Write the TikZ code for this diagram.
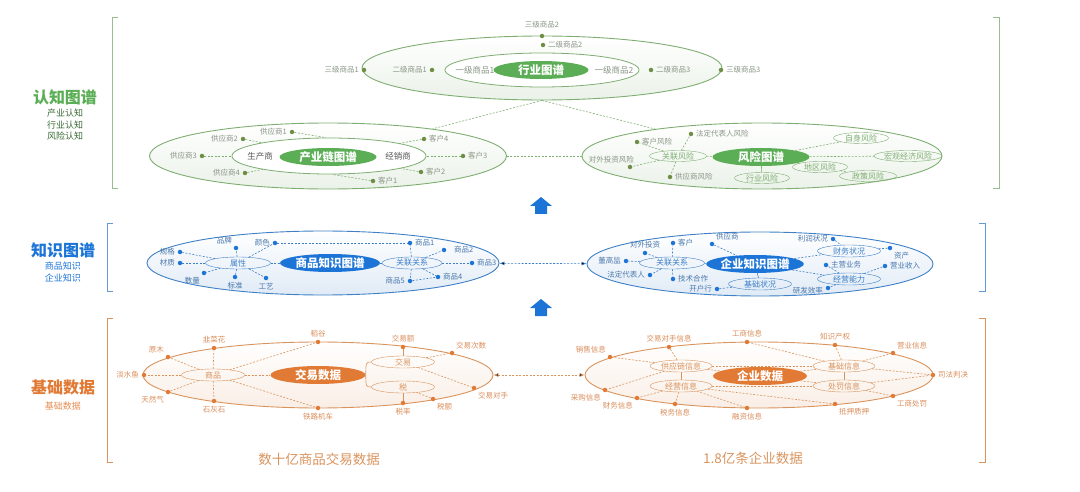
\documentclass[tikz,border=0pt]{standalone}
\usepackage{fontspec}
\setmainfont{Noto Sans CJK SC}
\usetikzlibrary{positioning, shapes.geometric, arrows.meta}

\definecolor{gmain}{HTML}{5BAE55}
\definecolor{gline}{HTML}{7FAE72}
\definecolor{gbead}{HTML}{6E8E45}
\definecolor{gtext}{HTML}{8A9686}
\definecolor{bmain}{HTML}{1C74D6}
\definecolor{bline}{HTML}{3F80C6}
\definecolor{btext}{HTML}{4A78AC}
\definecolor{omain}{HTML}{E07A35}
\definecolor{oline}{HTML}{D9945E}
\definecolor{otext}{HTML}{D98C5A}

\tikzset{
	ring/.style={ellipse,draw=#1,line width=0.9pt,inner sep=0pt,top color=white,bottom color=#1!16},
	ringin/.style={ellipse,draw=#1,line width=0.8pt,inner sep=0pt,fill=white},
	hub/.style={ellipse,fill=#1,text=white,inner sep=0pt,minimum height=18pt,font=\bfseries\fontsize{11.5}{12}\selectfont},
	pill/.style={ellipse,draw=#1,text=#1,inner sep=0pt,minimum height=12pt,font=\fontsize{8}{9}\selectfont},
	bead/.style={circle,fill=#1,inner sep=0pt,minimum size=4.5pt},
	lab/.style={text=#1,font=\fontsize{7.5}{8}\selectfont,inner sep=1.5pt},
	txt/.style={text=#1,font=\fontsize{8.5}{9}\selectfont,inner sep=0pt},
	dl/.style={draw=#1,line width=0.6pt,dash pattern=on 2pt off 1.5pt},
	sl/.style={draw=#1,line width=0.6pt},
	twoway/.style={dl=#1,{Latex[length=5pt,width=4pt]}-{Latex[length=5pt,width=4pt]}},
	head/.style={text=#1,font=\bfseries\fontsize{16}{17}\selectfont},
	subhead/.style={text=#1,font=\fontsize{9}{11.5}\selectfont,align=center},
	foot/.style={text=#1,font=\fontsize{13.5}{14}\selectfont},
	bracket/.style={draw=#1,line width=0.8pt},
}

\begin{document}
\begin{tikzpicture}[x=1pt,y=-1pt,label distance=1pt]
	\useasboundingbox (0,0) rectangle (1080,492);

	\node[head=gmain] (cogT) at (65,97) {认知图谱};
	\node[subhead=gmain!60!black] (cogS) at (65,125) {产业认知\\行业认知\\风险认知};
	\node[head=bmain] (kgT) at (63,250) {知识图谱};
	\node[subhead=bmain] (kgS) at (63,272) {商品知识\\企业知识};
	\node[head=omain] (baseT) at (63,387) {基础数据};
	\node[subhead=omain!85] (baseS) at (63,406) {基础数据};

	\draw[bracket=gline!80] (118,17) -| (112,188) -- (118,188);
	\draw[bracket=gline!80] (993,17) -| (999,188) -- (993,188);
	\draw[bracket=bline!80] (113,223) -| (107,291) -- (113,291);
	\draw[bracket=bline!80] (979,223) -| (985,291) -- (979,291);
	\draw[bracket=oline] (113,318) -| (107,462) -- (113,462);
	\draw[bracket=oline] (979,318) -| (985,462) -- (979,462);

	\foreach \y in {205,307}
		\fill[bmain] (535,\y+9) -- (535,\y+1) -- (530,\y+1) -- (541,\y-8) -- (552,\y+1) -- (547,\y+1) -- (547,\y+9) -- cycle;

	\node[ring=gline,minimum width=360pt,minimum height=64pt] (indOut) at (542,68) {};
	\node[ringin=gline,minimum width=194pt,minimum height=34pt] (indIn) at (542,70) {};
	\node[hub=gmain,minimum width=95pt] (ind) at (541,70) {行业图谱};
	\node[txt=gtext] (g1a) at (475,70) {一级商品1};
	\node[txt=gtext] (g1b) at (614,70) {一级商品2};
	\node[bead=gbead,label={[lab=gtext]left:二级商品1}] (g2a) at (432,70) {};
	\node[bead=gbead,label={[lab=gtext]right:二级商品2}] (g2b) at (543,45) {};
	\node[bead=gbead,label={[lab=gtext]right:二级商品3}] (g2c) at (651,70) {};
	\node[bead=gbead,label={[lab=gtext]left:三级商品1}] (g3a) at (364,70) {};
	\node[bead=gbead,label={[lab=gtext,label distance=4pt]above:三级商品2}] (g3b) at (542,36) {};
	\node[bead=gbead,label={[lab=gtext]right:三级商品3}] (g3c) at (721,70) {};

	\node[ring=gline,minimum width=357pt,minimum height=66pt] (chainOut) at (328,156) {};
	\node[ringin=gline,minimum width=194pt,minimum height=36pt] (chainIn) at (329,156) {};
	\node[hub=gmain,minimum width=97pt] (chain) at (328,157) {产业链图谱};
	\node[txt=black!65] (maker) at (260,156) {生产商};
	\node[txt=black!65] (dealer) at (398,156) {经销商};
	\node[bead=gbead,label={[lab=gtext]left:供应商1}] (s1) at (292,132) {};
	\node[bead=gbead,label={[lab=gtext]left:供应商2}] (s2) at (243,139) {};
	\node[bead=gbead,label={[lab=gtext]left:供应商3}] (s3) at (202,156) {};
	\node[bead=gbead,label={[lab=gtext]left:供应商4}] (s4) at (245,173) {};
	\node[bead=gbead,label={[lab=gtext]right:客户4}] (c4) at (424,139) {};
	\node[bead=gbead,label={[lab=gtext]right:客户3}] (c3) at (463,156) {};
	\node[bead=gbead,label={[lab=gtext]right:客户2}] (c2) at (421,172) {};
	\node[bead=gbead,label={[lab=gtext]right:客户1}] (c1) at (373,181) {};

	\node[ring=gline,minimum width=360pt,minimum height=66pt] (riskOut) at (762,156) {};
	\node[hub=gmain,minimum width=97pt] (risk) at (761,157) {风险图谱};
	\node[pill=gline,minimum width=57pt,minimum height=11pt] (rRel) at (678,156) {关联风险};
	\node[pill=gline,minimum width=55pt,minimum height=11pt] (rSelf) at (861,138) {自身风险};
	\node[pill=gline,minimum width=64pt,minimum height=11pt] (rMacro) at (908,156) {宏观经济风险};
	\node[pill=gline,minimum width=55pt,minimum height=11pt] (rRegion) at (820,167) {地区风险};
	\node[pill=gline,minimum width=57pt,minimum height=11pt] (rPolicy) at (868,176) {政策风险};
	\node[pill=gline,minimum width=55pt,minimum height=11pt] (rTrade) at (762,178) {行业风险};
	\node[bead=gbead,label={[lab=gtext]right:客户风险}] (rCust) at (637,142) {};
	\node[bead=gbead,label={[lab=gtext]right:法定代表人风险}] (rLegal) at (691,134) {};
	\node[bead=gbead,label={[lab=gtext,xshift=8pt]above left:对外投资风险}] (rInv) at (630,167) {};
	\node[bead=gbead,label={[lab=gtext]right:供应商风险}] (rSupp) at (670,177) {};

	\path[dl=gline] (s1) edge (chainIn.100) (s2) edge (chainIn) (s3) edge (chainIn) (s4) edge (chainIn);
	\path[dl=gline] (c4) edge (chainIn) (c3) edge (chainIn) (c2) edge (chainIn) (c1) edge (chainIn.-80);
	\path[dl=gline] (indOut.south) edge (chainOut) edge (riskOut);
	\path[dl=gline] (chainOut) edge (riskOut);
	\path[dl=gline] (rRel) edge (risk) edge (rCust) edge (rLegal) edge (rInv) edge (rSupp);
	\path[dl=gline] (risk) edge (rSelf) edge (rMacro) edge (rRegion);
	\path[dl=gline] (rRegion) edge (rPolicy);
	\path[sl=gline] (risk) edge (rTrade);

	\node[ring=bline,minimum width=352pt,minimum height=64pt] (skgOut) at (323,263) {};
	\node[hub=bmain,minimum width=100pt] (skg) at (330,263) {商品知识图谱};
	\node[pill=bline,minimum width=65pt] (attr) at (238,263) {属性};
	\node[pill=bline,minimum width=60pt] (rel) at (412,263) {关联关系};
	\node[bead=bmain,label={[lab=btext]left:颜色}] (colour) at (275,243) {};
	\node[bead=bmain,label={[lab=btext]above left:品牌}] (brand) at (236,248) {};
	\node[bead=bmain,label={[lab=btext]left:规格}] (spec) at (180,252) {};
	\node[bead=bmain,label={[lab=btext]left:材质}] (matter) at (180,263) {};
	\node[bead=bmain,label={[lab=btext]below left:数量}] (qty) at (204,273) {};
	\node[bead=bmain,label={[lab=btext]below:标准}] (norm) at (235,277) {};
	\node[bead=bmain,label={[lab=btext]below:工艺}] (craft) at (266,278) {};
	\node[bead=bmain,label={[lab=btext]right:商品1}] (p1) at (410,243) {};
	\node[bead=bmain,label={[lab=btext,label distance=6pt]right:商品2}] (p2) at (444,250) {};
	\node[bead=bmain,label={[lab=btext]right:商品3}] (p3) at (472,263) {};
	\node[bead=bmain,label={[lab=btext]right:商品4}] (p4) at (438,277) {};
	\node[bead=bmain,label={[lab=btext]left:商品5}] (p5) at (410,281) {};

	\path[dl=bline] (attr) edge (skg) edge (colour) edge (brand) edge (spec) edge (matter) edge (qty) edge (norm) edge (craft);
	\path[dl=bline] (colour) edge (p1);
	\path[dl=bline] (rel) edge (skg) edge (p1) edge (p2) edge (p3) edge (p4) edge (p5);
	\path[dl=bline] (p5) edge (p4);

	\node[ring=bline,minimum width=346pt,minimum height=64pt] (ekgOut) at (760,264) {};
	\node[hub=bmain,minimum width=90pt] (ekg) at (755,264) {企业知识图谱};
	\node[pill=bline,minimum width=65pt] (eRel) at (672,263) {关联关系};
	\node[pill=bline,minimum width=63pt] (eFin) at (849,251) {财务状况};
	\node[pill=bline,minimum width=63pt] (eOpr) at (849,279) {经营能力};
	\node[pill=bline,minimum width=63pt] (eBase) at (760,284) {基础状况};
	\node[bead=bmain,label={[lab=btext]left:董高监}] (eDgj) at (626,261) {};
	\node[bead=bmain,label={[lab=btext]above:对外投资}] (eInv) at (645,253) {};
	\node[bead=bmain,label={[lab=btext]right:客户}] (eCust) at (673,243) {};
	\node[bead=bmain,label={[lab=btext]above right:供应商}] (eSupp) at (712,244) {};
	\node[bead=bmain,label={[lab=btext]left:法定代表人}] (eLegal) at (650,275) {};
	\node[bead=bmain,label={[lab=btext]right:技术合作}] (eTech) at (673,279) {};
	\node[bead=bmain,label={[lab=btext]left:开户行}] (eBank) at (717,289) {};
	\node[bead=bmain,label={[lab=btext]left:利润状况}] (eProfit) at (833,239) {};
	\node[bead=bmain,label={[lab=btext]below right:资产}] (eAsset) at (890,248) {};
	\node[bead=bmain,label={[lab=btext]right:主营业务}] (eMain) at (826,265) {};
	\node[bead=bmain,label={[lab=btext]right:营业收入}] (eRev) at (885,266) {};
	\node[bead=bmain,label={[lab=btext,yshift=-3pt]left:研发效率}] (eRd) at (828,288) {};

	\path[dl=bline] (eRel) edge (ekg) edge (eDgj) edge (eInv) edge (eCust) edge (eLegal) edge (eTech);
	\path[dl=bline] (eSupp) edge (ekg);
	\path[sl=bline] (ekg) edge (eBase);
	\path[dl=bline] (eBank) edge (eBase);
	\path[dl=bline] (ekg) edge (eFin) edge (eOpr);
	\path[dl=bline] (eProfit) edge (eFin) (eFin) edge (eAsset) (eOpr) edge (eRev) edge (eMain) edge (eRd);
	\path[twoway=bline] (skgOut) edge (ekgOut);

	\node[ring=oline,minimum width=350pt,minimum height=66pt] (tdOut) at (318,375) {};
	\node[hub=omain,minimum width=95pt] (td) at (318,375) {交易数据};
	\node[pill=oline,minimum width=63pt] (oGoods) at (213,375) {商品};
	\node[pill=oline,minimum width=63pt] (oTrade) at (403,362) {交易};
	\node[pill=oline,minimum width=63pt] (oTax) at (403,387) {税};
	\node[bead=omain,label={[lab=otext]above left:原木}] (oWood) at (168,357) {};
	\node[bead=omain,label={[lab=otext]above:韭菜花}] (oLeek) at (214,348) {};
	\node[bead=omain,label={[lab=otext]above:稻谷}] (oRice) at (318,342) {};
	\node[bead=omain,label={[lab=otext]above:交易额}] (oAmt) at (403,347) {};
	\node[bead=omain,label={[lab=otext]above right:交易次数}] (oCnt) at (452,353) {};
	\node[bead=omain,label={[lab=otext]left:淡水鱼}] (oFish) at (144,375) {};
	\node[bead=omain,label={[lab=otext]below left:天然气}] (oGas) at (168,392) {};
	\node[bead=omain,label={[lab=otext]below:石灰石}] (oLime) at (214,401) {};
	\node[bead=omain,label={[lab=otext]below:铁路机车}] (oLoco) at (318,408) {};
	\node[bead=omain,label={[lab=otext]below:税率}] (oRate) at (403,403) {};
	\node[bead=omain,label={[lab=otext]below right:税额}] (oTaxAmt) at (433,399) {};
	\node[bead=omain,label={[lab=otext]below right:交易对手}] (oCpty) at (474,388) {};

	\path[dl=oline] (oGoods) edge (td) edge (oWood) edge (oFish) edge (oGas) edge (oLeek) edge (oLime) edge (oRice) edge (oLoco);
	\draw[sl=oline] (td.east) .. controls (366,362) .. (oTrade.west);
	\draw[sl=oline] (td.east) .. controls (366,387) .. (oTax.west);
	\path[sl=oline] (oAmt) edge (oTrade) (oRate) edge (oTax);
	\path[dl=oline] (oTrade) edge (oCnt) edge (oCpty);
	\path[dl=oline] (oTaxAmt) edge (oTax);

	\node[ring=oline,minimum width=348pt,minimum height=66pt] (edOut) at (759,375) {};
	\node[hub=omain,minimum width=94pt] (ed) at (760,376) {企业数据};
	\node[pill=oline,minimum width=62pt] (oChain) at (681,366) {供应链信息};
	\node[pill=oline,minimum width=62pt] (oOper) at (681,386) {经营信息};
	\node[pill=oline,minimum width=62pt] (oBasic) at (844,366) {基础信息};
	\node[pill=oline,minimum width=62pt] (oPunish) at (844,386) {处罚信息};
	\node[bead=omain,label={[lab=otext]above left:销售信息}] (oSales) at (610,357) {};
	\node[bead=omain,label={[lab=otext]above:交易对手信息}] (oCptyInfo) at (669,347) {};
	\node[bead=omain,label={[lab=otext]above:工商信息}] (oBiz) at (747,342) {};
	\node[bead=omain,label={[lab=otext]above:知识产权}] (oIp) at (835,345) {};
	\node[bead=omain,label={[lab=otext]above right:营业信息}] (oOpInfo) at (893,353) {};
	\node[bead=omain,label={[lab=otext]right:司法判决}] (oJudge) at (933,375) {};
	\node[bead=omain,label={[lab=otext]below right:工商处罚}] (oBizPen) at (893,396) {};
	\node[bead=omain,label={[lab=otext]below right:抵押质押}] (oMort) at (835,404) {};
	\node[bead=omain,label={[lab=otext]below:融资信息}] (oFinance) at (747,408) {};
	\node[bead=omain,label={[lab=otext]below:税务信息}] (oTaxInfo) at (675,404) {};
	\node[bead=omain,label={[lab=otext]below left:财务信息}] (oFinInfo) at (637,398) {};
	\node[bead=omain,label={[lab=otext]below left:采购信息}] (oPurch) at (605,390) {};

	\path[dl=oline] (oChain) edge (ed) edge (oBasic) edge (oSales) edge (oCptyInfo) edge (oPurch);
	\path[sl=oline] (oChain) edge (oOper) (oBasic) edge (oPunish);
	\path[dl=oline] (oOper) edge (oPunish) edge (oFinInfo) edge (oTaxInfo) edge (oFinance) edge (oMort);
	\path[dl=oline] (ed) edge (oBasic) edge (oPunish);
	\path[dl=oline] (oBasic) edge (oBiz) edge (oIp) edge (oOpInfo) edge (oJudge);
	\path[dl=oline] (oPunish) edge (oJudge) edge (oBizPen);
	\path[twoway=oline] (tdOut) edge (edOut);

	\node[foot=oline] (capL) at (319,459) {数十亿商品交易数据};
	\node[foot=oline] (capR) at (753,458) {1.8亿条企业数据};
\end{tikzpicture}
\end{document}
